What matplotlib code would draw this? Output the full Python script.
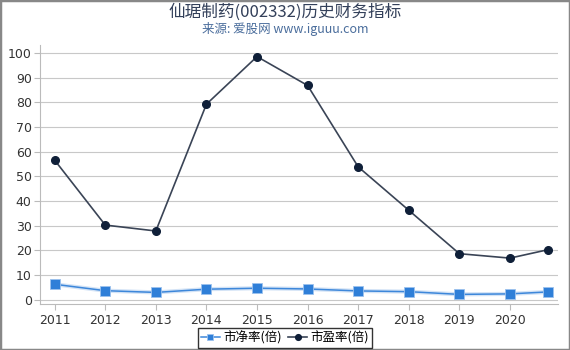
import matplotlib
matplotlib.use("Agg")
import matplotlib.pyplot as plt
from matplotlib.patches import Rectangle

plt.rcParams['font.family'] = ['Noto Sans CJK SC', 'DejaVu Sans']

years = [2011, 2012, 2013, 2014, 2015, 2016, 2017, 2018, 2019, 2020, 2020.75]
tick_years = [2011, 2012, 2013, 2014, 2015, 2016, 2017, 2018, 2019, 2020]
tick_labels = [str(y) for y in tick_years]
pb = [6.2, 3.6, 2.9, 4.2, 4.6, 4.3, 3.5, 3.2, 2.1, 2.3, 3.1]
pe = [56.5, 30.2, 27.8, 79.2, 98.5, 86.8, 53.8, 36.2, 18.6, 16.8, 20.2]

fig = plt.figure(figsize=(5.7, 3.5), dpi=100)
ax = fig.add_axes([40/570, 1-304/350, 518/570, (304-45)/350])

ax.plot(years, pb, color='#d3e3f6', lw=3, zorder=2)
ax.plot(years, pb, color='#3d87da', lw=1.1, marker='s', ms=6.5,
        mfc='#2f7fd8', mec='#9cc2ee', mew=0.6, label='市净率(倍)', zorder=3)
ax.plot(years, pe, color='#3a4456', lw=1.2, marker='o', ms=5.5,
        mfc='#0f1f38', mec='#0f1f38', label='市盈率(倍)', zorder=3)

ax.set_xlim(2010.71, 2020.95)
ax.set_ylim(-1.8, 103.2)
ax.set_yticks(range(0, 101, 10))
ax.set_xticks(tick_years)
ax.set_xticklabels(tick_labels)
for lab in ax.get_xticklabels() + ax.get_yticklabels():
    lab.set_family('DejaVu Sans')
ax.tick_params(axis='both', labelsize=9, colors='#333333', length=4, width=0.8)
ax.tick_params(axis='both', color='#bbbbbb')
ax.tick_params(axis='x', pad=3)
ax.tick_params(axis='y', pad=2)
ax.grid(axis='y', color='#c8c8c8', lw=0.8)
ax.set_axisbelow(True)
for s in ['top', 'right']:
    ax.spines[s].set_visible(False)
for s in ['left', 'bottom']:
    ax.spines[s].set_color('#bbbbbb')
    ax.spines[s].set_linewidth(0.8)

fig.text(0.5, 1-12/350, '仙琚制药(002332)历史财务指标', ha='center', va='center',
         fontsize=12, color='#33405a')
fig.text(0.5, 1-29/350, '来源: 爱股网 www.iguuu.com', ha='center', va='center',
         fontsize=9, color='#4a6d9c')

leg = fig.legend(loc='center', bbox_to_anchor=(285/570, 1-338/350), ncol=2,
                 fontsize=9, frameon=True, fancybox=False, edgecolor='#000000',
                 handlelength=1.5, handletextpad=0.3, columnspacing=0.5,
                 borderpad=0.25, markerscale=0.75)
leg.get_frame().set_linewidth(1.0)

fig.patches.append(Rectangle((0, 0), 1, 1, transform=fig.transFigure,
                             fill=False, edgecolor='#888888', lw=2.5))

fig.savefig('out.png', dpi=100)
